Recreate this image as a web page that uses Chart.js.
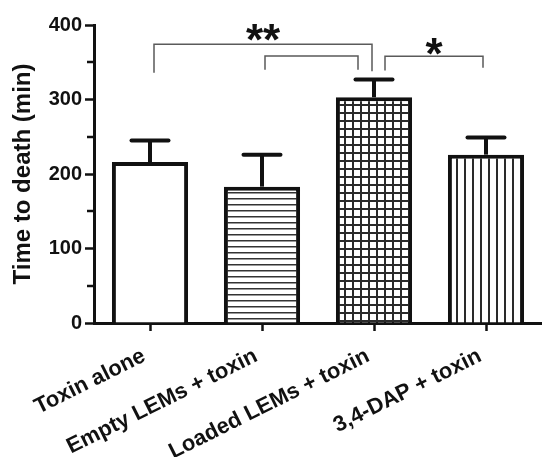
<!DOCTYPE html>
<html>
<head>
<meta charset="utf-8">
<script src="https://cdn.jsdelivr.net/npm/chart.js@4.4.0/dist/chart.umd.min.js"></script>
<style>
  html, body { margin: 0; padding: 0; background: #fff; }
  #chart { display: block; }
</style>
</head>
<body>
<canvas id="chart" width="542" height="457"></canvas>
<script>
// Data
const groups = ['Toxin alone', 'Empty LEMs + toxin', 'Loaded LEMs + toxin', '3,4-DAP + toxin'];
const meanTime = [216, 183, 303, 226];
const semTime = [29, 43, 24, 23];
const yMin = 0;
const yMax = 400;
const yStep = 100;

// Significance annotations (group indices, label)
const sigFrom = [0, 1, 2];
const sigTo = [2, 2, 3];
const sigLabel = ['**', '', '*'];

const FONT = "'Liberation Sans', Arial, Helvetica, sans-serif";
const INK = '#111';

// bracket geometry (y in axis units, x offsets in px from the group centres)
const bracketStyle = [
    { top: 374, dropL: 336, dropR: 338, offL: 4, offR: -2, labelY: 390 },
    { top: 358.5, dropL: 340, dropR: 340, offL: 3, offR: -16, labelY: 0 },
    { top: 358, dropL: 339, dropR: 342.5, offL: 11, offR: -3, labelY: 371 }
];

function makePattern(type) {
    const c = document.createElement('canvas');
    const ctx = c.getContext('2d');
    if (type === 'white') {
        c.width = c.height = 4;
        ctx.fillStyle = '#fff';
        ctx.fillRect(0, 0, 4, 4);
    } else if (type === 'hlines') {
        c.width = 6; c.height = 6;
        ctx.fillStyle = '#fff';
        ctx.fillRect(0, 0, 6, 6);
        ctx.fillStyle = '#333';
        ctx.fillRect(0, 0, 6, 1.5);
    } else if (type === 'grid') {
        c.width = 8; c.height = 8;
        ctx.fillStyle = '#fff';
        ctx.fillRect(0, 0, 8, 8);
        ctx.fillStyle = '#2a2a2a';
        ctx.fillRect(0, 0, 8, 2);
        ctx.fillRect(0, 0, 2, 8);
    } else if (type === 'vlines') {
        c.width = 8; c.height = 8;
        ctx.fillStyle = '#fff';
        ctx.fillRect(0, 0, 8, 8);
        ctx.fillStyle = '#2a2a2a';
        ctx.fillRect(0, 0, 2, 8);
    }
    return document.getElementById('chart').getContext('2d').createPattern(c, 'repeat');
}

const barFills = [makePattern('white'), makePattern('hlines'), makePattern('grid'), makePattern('vlines')];

const errorBarPlugin = {
    id: 'errorBars',
    afterDatasetsDraw(chart) {
        const ctx = chart.ctx;
        const y = chart.scales.y;
        const meta = chart.getDatasetMeta(0);
        ctx.save();
        ctx.strokeStyle = INK;
        ctx.lineWidth = 4;
        meta.data.forEach((bar, i) => {
            const top = y.getPixelForValue(meanTime[i] + semTime[i]);
            ctx.beginPath();
            ctx.lineCap = 'butt';
            ctx.moveTo(bar.x, bar.y);
            ctx.lineTo(bar.x, top);
            ctx.stroke();
            ctx.beginPath();
            ctx.lineCap = 'round';
            ctx.moveTo(bar.x - 18.5, top);
            ctx.lineTo(bar.x + 18.5, top);
            ctx.stroke();
        });
        ctx.restore();
    }
};

const extrasPlugin = {
    id: 'extras',
    afterDraw(chart) {
        const ctx = chart.ctx;
        const x = chart.scales.x;
        const y = chart.scales.y;
        ctx.save();

        // minor ticks on the y axis
        ctx.strokeStyle = INK;
        ctx.lineWidth = 2.5;
        const t = y.ticks;
        for (let i = 0; i < t.length - 1; i++) {
            const py = Math.round(y.getPixelForValue((t[i].value + t[i + 1].value) / 2));
            ctx.beginPath();
            ctx.moveTo(y.right - 7, py);
            ctx.lineTo(y.right, py);
            ctx.stroke();
        }

        // significance brackets
        ctx.strokeStyle = '#5a5a5a';
        ctx.lineWidth = 1.5;
        for (let i = 0; i < sigFrom.length; i++) {
            const b = bracketStyle[i];
            const x1 = x.getPixelForValue(sigFrom[i]) + b.offL;
            const x2 = x.getPixelForValue(sigTo[i]) + b.offR;
            const yt = y.getPixelForValue(b.top);
            ctx.beginPath();
            ctx.moveTo(x1, y.getPixelForValue(b.dropL));
            ctx.lineTo(x1, yt);
            ctx.lineTo(x2, yt);
            ctx.lineTo(x2, y.getPixelForValue(b.dropR));
            ctx.stroke();

            if (sigLabel[i]) {
                ctx.fillStyle = INK;
                ctx.font = 'bold 44px ' + FONT;
                ctx.textAlign = 'center';
                ctx.textBaseline = 'alphabetic';
                const m = ctx.measureText(sigLabel[i]);
                const cy = y.getPixelForValue(b.labelY);
                const base = cy + (m.actualBoundingBoxAscent - m.actualBoundingBoxDescent) / 2;
                ctx.fillText(sigLabel[i], (x1 + x2) / 2, base);
            }
        }
        ctx.restore();
    }
};

new Chart(document.getElementById('chart'), {
    type: 'bar',
    data: {
        labels: groups,
        datasets: [{
            data: meanTime,
            backgroundColor: barFills,
            borderColor: INK,
            borderWidth: 4,
            borderSkipped: 'start',
            barPercentage: 0.68,
            categoryPercentage: 1.0
        }]
    },
    options: {
        responsive: false,
        animation: false,
        events: [],
        layout: { padding: { top: 25, right: 0, left: 0, bottom: 0 } },
        plugins: {
            legend: { display: false },
            tooltip: { enabled: false }
        },
        scales: {
            x: {
                grid: {
                    display: true,
                    drawOnChartArea: false,
                    offset: false,
                    tickLength: 8,
                    tickWidth: 2.5,
                    tickColor: INK
                },
                border: { color: INK, width: 3 },
                ticks: {
                    color: INK,
                    font: { family: FONT, size: 22, weight: 'bold' },
                    minRotation: 26.5,
                    maxRotation: 26.5,
                    padding: 12,
                    labelOffset: -6
                },
                afterFit(scale) {
                    scale.height = 134;
                    scale.paddingLeft = 0;
                    scale.paddingRight = 0;
                }
            },
            y: {
                min: yMin,
                max: yMax,
                grid: {
                    display: true,
                    drawOnChartArea: false,
                    tickLength: 9,
                    tickWidth: 2.5,
                    tickColor: INK
                },
                border: { color: INK, width: 3 },
                ticks: {
                    stepSize: yStep,
                    color: INK,
                    font: { family: FONT, size: 20, weight: 'bold' },
                    padding: 3
                },
                title: {
                    display: true,
                    text: 'Time to death (min)',
                    color: INK,
                    font: { family: FONT, size: 24, weight: 'bold' },
                    padding: { top: 9, bottom: 0 }
                },
                afterFit(scale) {
                    scale.width = 94;
                }
            }
        }
    },
    plugins: [errorBarPlugin, extrasPlugin]
});
</script>
</body>
</html>
